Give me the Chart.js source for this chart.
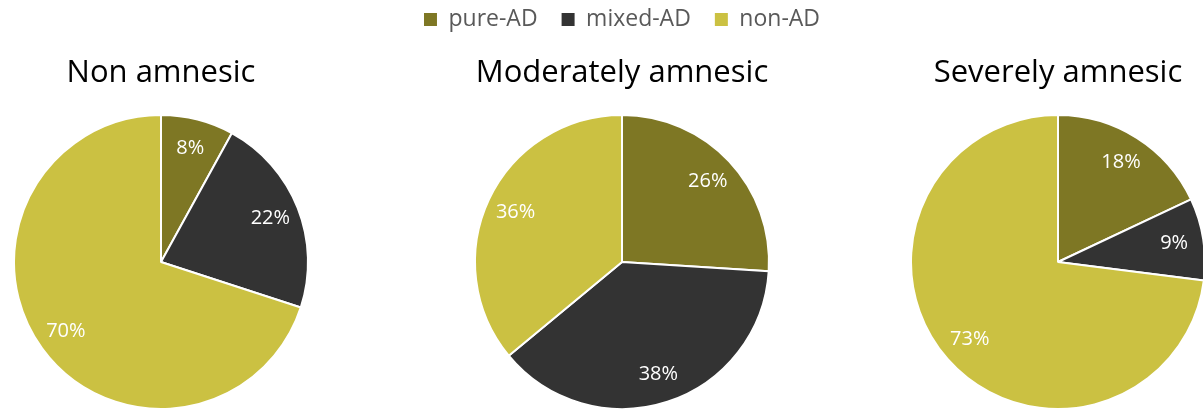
<!DOCTYPE html>
<html>
<head>
<meta charset="utf-8">
<script src="https://cdn.jsdelivr.net/npm/chart.js@4.4.1/dist/chart.umd.min.js"></script>
<style>
    html, body { margin: 0; padding: 0; background: #fff; }
    body { width: 1203px; height: 414px; overflow: hidden; position: relative; }
    canvas { position: absolute; }
</style>
</head>
<body>
<canvas id="pieNon" width="400" height="369" style="left:-39px; top:41px; width:400px; height:369px;"></canvas>
<canvas id="pieModerate" width="600" height="426" style="left:322px; top:-16px; width:600px; height:426px;"></canvas>
<canvas id="pieSevere" width="400" height="369" style="left:858px; top:41px; width:400px; height:369px;"></canvas>

<script>
const categories = ['pure-AD', 'mixed-AD', 'non-AD'];
const colors = ['#7e7724', '#333333', '#cbc142'];

const titles = ['Non amnesic', 'Moderately amnesic', 'Severely amnesic'];
const nonAmnesic = [8, 22, 70];
const moderatelyAmnesic = [26, 38, 36];
const severelyAmnesic = [18, 9, 73];

const FONT = "'Open Sans', 'DejaVu Sans', sans-serif";

// nhãn % trắng bên trong lát bánh
const sliceLabels = {
    id: 'sliceLabels',
    afterDatasetsDraw(chart) {
        const ctx = chart.ctx;
        const meta = chart.getDatasetMeta(0);
        const values = chart.data.datasets[0].data;
        ctx.save();
        ctx.fillStyle = '#ffffff';
        ctx.font = `20px ${FONT}`;
        ctx.textAlign = 'center';
        ctx.textBaseline = 'middle';
        meta.data.forEach((arc, i) => {
            const p = arc.getProps(['x', 'y', 'startAngle', 'endAngle', 'outerRadius'], true);
            const mid = (p.startAngle + p.endAngle) / 2;
            const r = p.outerRadius * 0.8;
            ctx.fillText(values[i] + '%', p.x + Math.cos(mid) * r, p.y + Math.sin(mid) * r);
        });
        ctx.restore();
    }
};

function makePie(id, title, values, showLegend) {
    const ctx = document.getElementById(id).getContext('2d');
    return new Chart(ctx, {
        type: 'pie',
        data: {
            labels: categories,
            datasets: [{
                data: values,
                backgroundColor: colors,
                borderColor: '#ffffff',
                borderWidth: 2
            }]
        },
        options: {
            responsive: false,
            animation: false,
            layout: { padding: 0 },
            plugins: {
                legend: {
                    display: showLegend,
                    position: 'top',
                    weight: 1000,
                    labels: {
                        boxWidth: 13,
                        boxHeight: 13,
                        padding: 24,
                        color: '#595959',
                        font: { family: FONT, size: 23 },
                        generateLabels(chart) {
                            const items = Chart.overrides.pie.plugins.legend.labels.generateLabels(chart);
                            return items.map(item => ({ ...item, lineWidth: 0 }));
                        }
                    }
                },
                title: {
                    display: true,
                    text: title,
                    weight: 500,
                    color: '#000000',
                    font: { family: FONT, size: 31, weight: 'normal', lineHeight: 1.2 },
                    padding: { top: 13.4, bottom: 22.4 }
                },
                tooltip: { enabled: false }
            }
        },
        plugins: [sliceLabels]
    });
}

makePie('pieNon', titles[0], nonAmnesic, false);
makePie('pieModerate', titles[1], moderatelyAmnesic, true);
makePie('pieSevere', titles[2], severelyAmnesic, false);
</script>
</body>
</html>
